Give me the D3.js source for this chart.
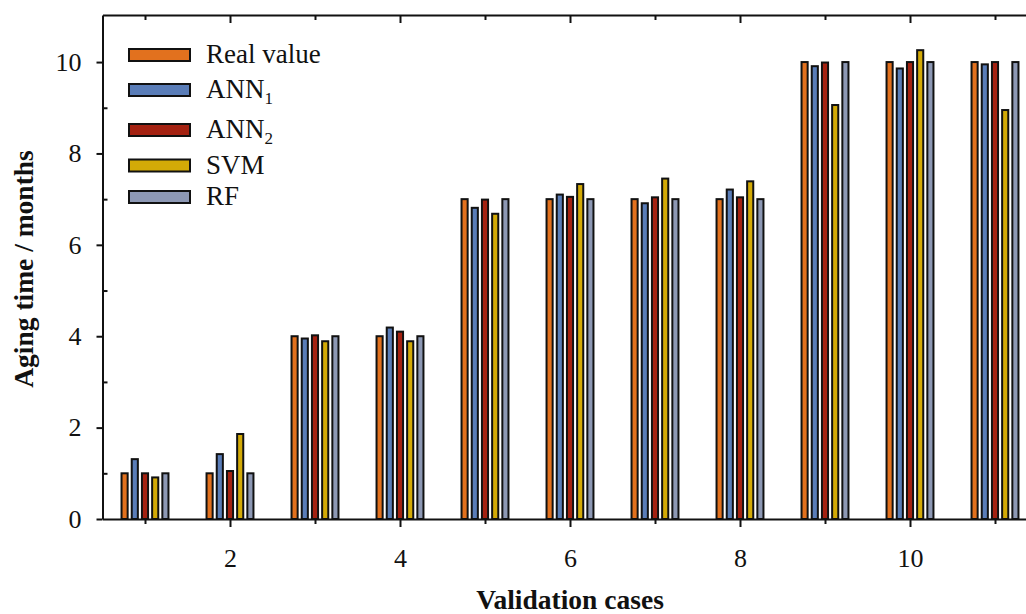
<!DOCTYPE html>
<html>
<head>
<meta charset="utf-8">
<script src="https://cdn.jsdelivr.net/npm/d3@7/dist/d3.min.js"></script>
<style>
  html, body { margin: 0; padding: 0; background: #fff; }
  svg { display: block; }
</style>
</head>
<body>
<svg id="chart" width="1026" height="614"></svg>
<script>
// ---- data ----
const cases = [1, 2, 3, 4, 5, 6, 7, 8, 9, 10, 11];
const series = ["Real value", "ANN1", "ANN2", "SVM", "RF"];
const realValue = [1.0, 1.0, 4.0, 4.0, 7.0, 7.0, 7.0, 7.0, 10.0, 10.0, 10.0];
const ann1      = [1.31, 1.42, 3.95, 4.19, 6.81, 7.10, 6.91, 7.21, 9.91, 9.86, 9.95];
const ann2      = [1.0, 1.05, 4.02, 4.10, 6.99, 7.05, 7.04, 7.04, 9.99, 10.0, 10.0];
const svm       = [0.91, 1.86, 3.89, 3.89, 6.68, 7.33, 7.45, 7.39, 9.06, 10.26, 8.95];
const rf        = [1.0, 1.0, 4.0, 4.0, 7.0, 7.0, 7.0, 7.0, 10.0, 10.0, 10.0];
const yMajorTicks = [0, 2, 4, 6, 8, 10];
const yMinorTicks = [1, 3, 5, 7, 9];
const xMajorTicks = [2, 4, 6, 8, 10];
const xMinorTicks = [1, 3, 5, 7, 9, 11];
const legendMain = ["Real value", "ANN", "ANN", "SVM", "RF"];
const legendSub  = ["", "1", "2", "", ""];
const xTitle = "Validation cases";
const yTitle = "Aging time / months";

// ---- styles ----
const FONT = '"Liberation Serif", "Times New Roman", Times, "DejaVu Serif", serif';
const colors = {
  "Real value": "#E2711E",
  "ANN1": "#5A7DB8",
  "ANN2": "#A42211",
  "SVM": "#D3AA07",
  "RF": "#8D98B4"
};
const valuesBySeries = { "Real value": realValue, "ANN1": ann1, "ANN2": ann2, "SVM": svm, "RF": rf };
const rows = [];
cases.forEach((c, i) => series.forEach(s => rows.push({ c, s, v: valuesBySeries[s][i] })));

const svg = d3.select("#chart");
const x = d3.scaleLinear().domain([0.5, 11.5]).range([102.5, 1037.5]);
const y = d3.scaleLinear().domain([0, 11.03]).range([519, 15]);
const inner = d3.scaleBand().domain(series).range([-25.5, 25.5]);
const barW = inner.bandwidth() * 0.6;

// bars
svg.append("g").selectAll("rect").data(rows).join("rect")
  .attr("x", d => x(d.c) + inner(d.s) + (inner.bandwidth() - barW) / 2)
  .attr("y", d => y(d.v))
  .attr("width", barW)
  .attr("height", d => y(0) - y(d.v))
  .attr("fill", d => colors[d.s])
  .attr("stroke", "#111")
  .attr("stroke-width", 2);

const fontSize = 26;
function styleAxis(g) {
  g.attr("font-family", null);
  g.selectAll("path, line").attr("stroke", "#111").attr("stroke-width", 2);
  g.selectAll("text").style("font-size", fontSize + "px").attr("fill", "#111")
    .style("font-family", FONT);
}

// left axis: major outward, minor inward
svg.append("g").attr("transform", `translate(${x(0.5)},0)`)
  .call(d3.axisLeft(y).tickValues(yMajorTicks).tickSize(6).tickSizeOuter(0).tickPadding(15).tickFormat(d3.format("d")))
  .call(styleAxis);
svg.append("g").attr("transform", `translate(${x(0.5)},0)`)
  .call(d3.axisLeft(y).tickValues(yMinorTicks).tickSize(-5).tickSizeOuter(0).tickFormat(""))
  .call(styleAxis)
  .select(".domain").remove();

// bottom axis
svg.append("g").attr("transform", `translate(0,${y(0)})`)
  .call(d3.axisBottom(x).tickValues(xMajorTicks).tickSize(8).tickSizeOuter(0).tickPadding(22).tickFormat(d3.format("d")))
  .call(styleAxis);
svg.append("g").attr("transform", `translate(0,${y(0)})`)
  .call(d3.axisBottom(x).tickValues(xMinorTicks).tickSize(5).tickSizeOuter(0).tickFormat(""))
  .call(styleAxis)
  .select(".domain").remove();

// top axis (inward ticks)
svg.append("g").attr("transform", `translate(0,${y(11.03)})`)
  .call(d3.axisTop(x).tickValues(xMajorTicks).tickSize(-8).tickSizeOuter(0).tickFormat(""))
  .call(styleAxis);
svg.append("g").attr("transform", `translate(0,${y(11.03)})`)
  .call(d3.axisTop(x).tickValues(xMinorTicks).tickSize(-5).tickSizeOuter(0).tickFormat(""))
  .call(styleAxis)
  .select(".domain").remove();

// axis titles
svg.append("text")
  .attr("x", (x(0.5) + x(11.5)) / 2)
  .attr("y", 609)
  .attr("text-anchor", "middle")
  .style("font-family", FONT)
  .style("font-size", "27.5px")
  .style("font-weight", "bold")
  .attr("fill", "#111")
  .text(xTitle);
svg.append("text")
  .attr("transform", "translate(33,269) rotate(-90)")
  .attr("text-anchor", "middle")
  .style("font-family", FONT)
  .style("font-size", "27.5px")
  .style("font-weight", "bold")
  .attr("fill", "#111")
  .text(yTitle);

// legend
const legendRowY = [55, 90, 130, 165.5, 197];
const lg = svg.append("g");
series.forEach((s, i) => {
  const cy = legendRowY[i];
  lg.append("rect")
    .attr("x", 129).attr("y", cy - 6).attr("width", 61).attr("height", 12)
    .attr("fill", colors[s]).attr("stroke", "#111").attr("stroke-width", 2);
  const t = lg.append("text").attr("x", 206).attr("y", cy + 8)
    .style("font-family", FONT).style("font-size", "27px").attr("fill", "#111");
  t.append("tspan").text(legendMain[i]);
  if (legendSub[i]) {
    t.append("tspan").style("font-size", "17px").attr("dy", 6).text(legendSub[i]);
  }
});
</script>
</body>
</html>
